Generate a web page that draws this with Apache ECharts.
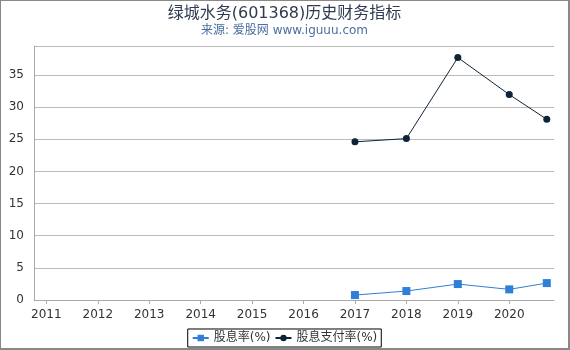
<!DOCTYPE html>
<html><head><meta charset="utf-8">
<script src="https://cdn.jsdelivr.net/npm/echarts@6/dist/echarts.min.js"></script>
<style>
html,body{margin:0;padding:0;background:#fff;}
#c{width:567px;height:347px;border:1px solid #888;border-right-width:2px;border-bottom-width:2px;}
</style></head>
<body><div id="c"></div>
<script>
const title = '绿城水务(601368)历史财务指标';
const subtitle = '来源: 爱股网 www.iguuu.com';
const yearTicks = [2011, 2012, 2013, 2014, 2015, 2016, 2017, 2018, 2019, 2020];
const dates = [2017, 2018, 2019, 2020, 2020.73];
const yieldVals = [0.77, 1.39, 2.48, 1.65, 2.63];
const payoutVals = [24.6, 25.1, 37.7, 31.95, 28.1];
const seriesNames = ['股息率(%)', '股息支付率(%)'];

const chart = echarts.init(document.getElementById('c'));
const font = 'DejaVu Sans, Noto Sans CJK SC, sans-serif';
chart.setOption({
  animation: false,
  textStyle: {fontFamily: font},
  title: {
    text: title, subtext: subtitle, left: 'center', top: 0, itemGap: 3,
    textStyle: {fontSize: 16, fontWeight: 'normal', color: '#2e3b52', fontFamily: font},
    subtextStyle: {fontSize: 12, color: '#4a6ea0', fontFamily: font}
  },
  grid: {left: 33, right: 14, top: 45, bottom: 48, containLabel: false},
  legend: {
    bottom: 1, left: 'center', itemWidth: 16, itemHeight: 8, itemGap: 4,
    borderColor: '#000', borderWidth: 1, padding: [3, 4], borderRadius: 0,
    textStyle: {fontSize: 12, color: '#333', fontFamily: font},
    data: seriesNames
  },
  xAxis: {
    type: 'value', min: 2010.76, max: 2020.87,
    splitLine: {show: false},
    axisLine: {lineStyle: {color: '#aaa'}},
    axisTick: {show: true, customValues: yearTicks, length: 4, lineStyle: {color: '#aaa'}},
    axisLabel: {customValues: yearTicks, color: '#333', fontSize: 12, margin: 9, formatter: v => String(Math.round(v))}
  },
  yAxis: {
    type: 'value', min: 0, max: 39.5, interval: 5,
    axisLine: {show: true, lineStyle: {color: '#aaa'}},
    axisTick: {show: false},
    splitLine: {lineStyle: {color: '#bbb'}},
    axisLabel: {color: '#333', fontSize: 12, margin: 10, showMaxLabel: false}
  },
  series: [
    {
      name: seriesNames[0], type: 'line', symbol: 'rect', symbolSize: 8,
      itemStyle: {color: '#2f7ed8'}, lineStyle: {width: 1, color: '#2f7ed8'},
      data: dates.map((d, i) => [d, yieldVals[i]])
    },
    {
      name: seriesNames[1], type: 'line', symbol: 'circle', symbolSize: 7,
      itemStyle: {color: '#0d233a'}, lineStyle: {width: 1, color: '#0d233a'},
      data: dates.map((d, i) => [d, payoutVals[i]])
    }
  ]
});
</script></body></html>
